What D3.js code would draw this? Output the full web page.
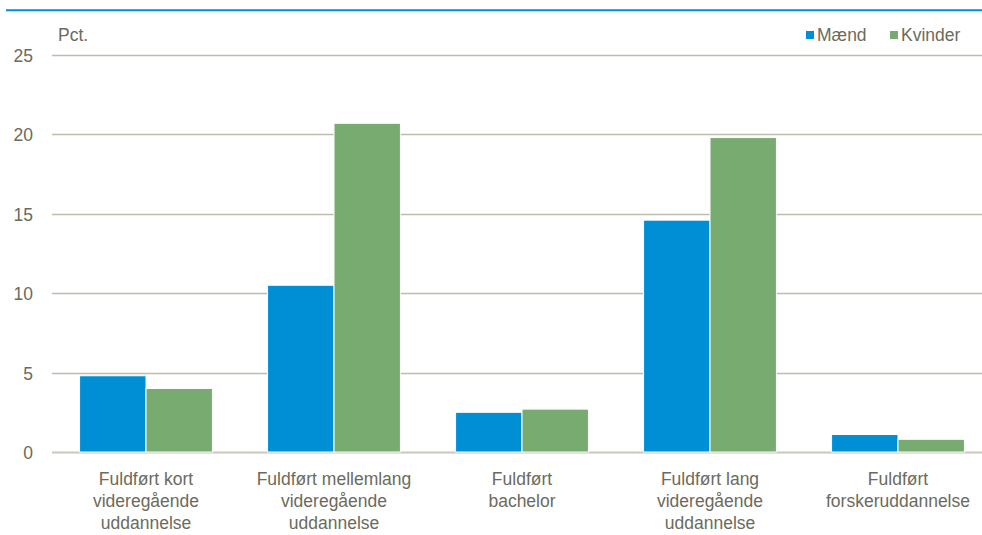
<!DOCTYPE html>
<html><head><meta charset="utf-8">
<script src="https://cdn.jsdelivr.net/npm/d3@7"></script>
<style>body{margin:0;background:#fff;} text{font-family:"Liberation Sans",Arial,sans-serif;}</style>
</head><body><svg id="c" width="982" height="535"></svg>
<script>
const categories = [
  ["Fuldført kort","videregående","uddannelse"],
  ["Fuldført mellemlang","videregående","uddannelse"],
  ["Fuldført","bachelor"],
  ["Fuldført lang","videregående","uddannelse"],
  ["Fuldført","forskeruddannelse"]
];
const seriesNames = ["Mænd","Kvinder"];
const maend = [4.8, 10.5, 2.5, 14.6, 1.1];
const kvinder = [4.0, 20.7, 2.7, 19.8, 0.8];
const yTicks = [0,5,10,15,20,25];
const colors = ["#008FD5","#77AB6F"];
const textColor = "#6B6B5B";

(function(){
const svg = d3.select("#c");
const pL = 52, pR = 992, pT = 55, pB = 452;
const fs = 17.5;
const x = d3.scaleBand().domain(d3.range(categories.length)).range([pL,pR]).paddingInner(0).paddingOuter(0);
const x1 = d3.scaleBand().domain([0,1]).range([0, x.bandwidth()]).paddingOuter(0.415).paddingInner(0.0);
const y = d3.scaleLinear().domain([0,25]).range([pB, pT]);

svg.append("line").attr("x1",6).attr("x2",982).attr("y1",10.2).attr("y2",10.2).attr("stroke","#008FD5").attr("stroke-width",2);

svg.append("g").selectAll("line").data(yTicks).join("line")
  .attr("x1",pL).attr("x2",982).attr("y1",d=>Math.round(y(d))+0.5).attr("y2",d=>Math.round(y(d))+0.5)
  .attr("stroke",d=>d===0?"#C8C8BC":"#BDBDAE").attr("stroke-width",d=>d===0?2:1.3);

svg.append("g").selectAll("text").data(yTicks).join("text")
  .attr("x",33).attr("y",d=>y(d)+7).attr("text-anchor","end")
  .attr("font-size",fs).attr("fill",textColor).text(d=>d);

svg.append("text").attr("x",58).attr("y",41).attr("font-size",fs).attr("fill",textColor).text("Pct.");

const data = [maend, kvinder];
data.forEach((vals, si) => {
  svg.append("g").selectAll("rect").data(vals).join("rect")
    .attr("x",(d,i)=>x(i)+x1(si))
    .attr("width",x1.bandwidth())
    .attr("y",d=>y(d))
    .attr("height",d=>y(0)-y(d))
    .attr("fill",colors[si])
    .attr("stroke","#fff").attr("stroke-width",1);
});

const lab = svg.append("g");
categories.forEach((lines,i)=>{
  const t = lab.append("text").attr("text-anchor","middle").attr("font-size",fs).attr("fill",textColor);
  lines.forEach((l,k)=>{
    t.append("tspan").attr("x",x(i)+x.bandwidth()/2).attr("y",485+k*22).text(l);
  });
});

const legX = [806, 890];
seriesNames.forEach((n,i)=>{
  svg.append("rect").attr("x",legX[i]).attr("y",31).attr("width",8).attr("height",8).attr("fill",colors[i]);
  svg.append("text").attr("x",legX[i]+11).attr("y",41).attr("font-size",fs).attr("fill",textColor).text(n);
});
})();
</script></body></html>
